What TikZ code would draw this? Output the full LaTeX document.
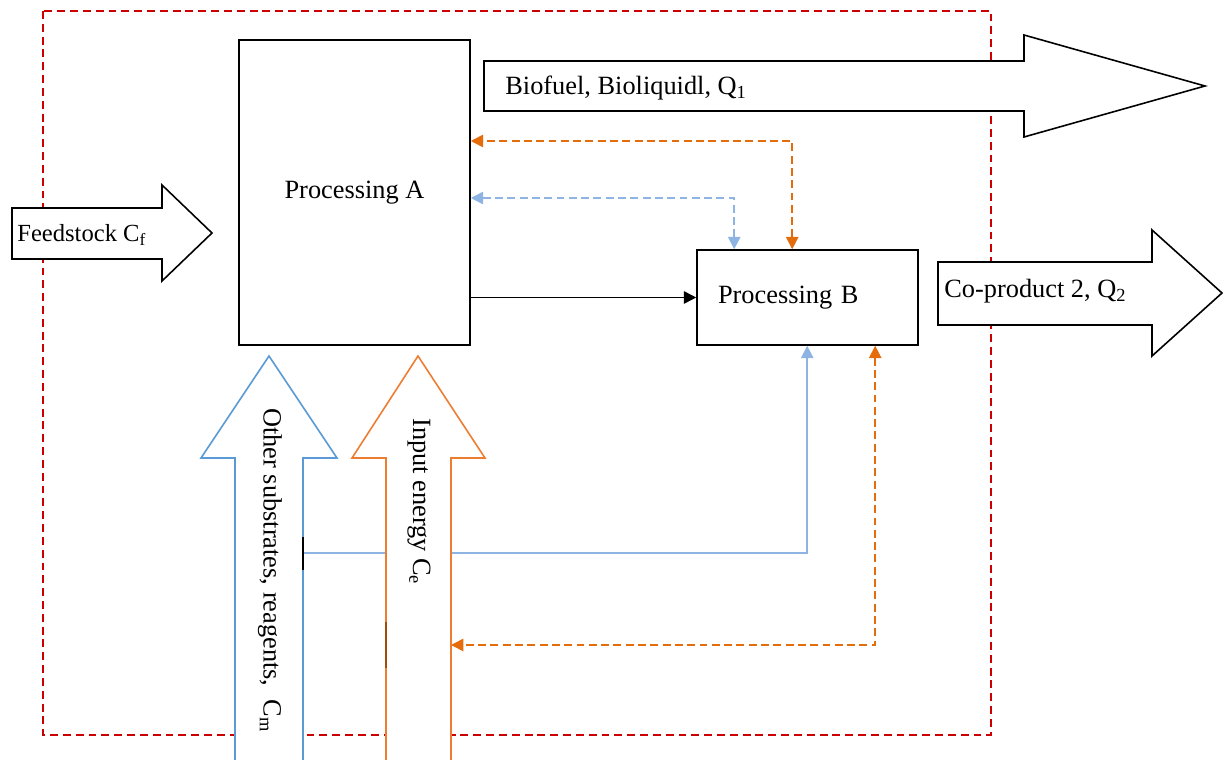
\documentclass[tikz,border=0pt]{standalone}
\usepackage{fontspec}
\setmainfont{Liberation Serif}
\usepackage{tikz}
\usetikzlibrary{arrows.meta}
\definecolor{bluearrow}{RGB}{91, 155, 213}
\definecolor{bluelink}{RGB}{141, 180, 226}
\definecolor{orangearrow}{RGB}{237, 125, 49}
\definecolor{orangelink}{RGB}{228, 108, 10}
\definecolor{borderred}{RGB}{204, 0, 0}

\begin{document}
\begin{tikzpicture}[x=0.02cm, y=-0.02cm, font=\fontsize{15}{18}\selectfont,
  procbox/.style={draw, line width=0.9pt, fill=white, inner sep=0pt},
  bigarrow/.style={draw, line width=0.9pt, fill=white, line join=miter},
  elink/.style={orangelink, line width=0.9pt, dash pattern=on 4.5pt off 2.5pt},
  slink/.style={bluelink, line width=0.9pt, dash pattern=on 4.5pt off 2.5pt}]
\useasboundingbox (0,0) rectangle (1224,760);

% System boundary
\draw[borderred, line width=0.9pt, dash pattern=on 4.5pt off 2.8pt] (43,11) rectangle (991,735);

% Processing units
\node[procbox, minimum width=4.62cm, minimum height=6.1cm] (procA) at (354.5,192.5) {Processing A};
\node[procbox, minimum width=4.42cm, minimum height=1.9cm, text width=3.58cm,
      inner xsep=0.42cm, align=left] (procB) at (807.5,297.5) {Processing B};

% Edge points of the two input arrows
\coordinate (subR) at (303,553);
\coordinate (engR) at (451,645);

% Substrate return (runs behind the energy arrow)
\draw[bluelink, line width=0.9pt, {Triangle[length=7pt, width=7pt]}-] ([xshift=2.22cm]procB.south west) |- (subR);

% Inputs and outputs
\draw[bigarrow] (12,208) -- (162,208) -- (162,185) -- (212,233) -- (162,281) -- (162,259) -- (12,259) -- cycle;
\draw[bigarrow] (484,61) -- (1024,61) -- (1024,35) -- (1205,86) -- (1024,137) -- (1024,111) -- (484,111) -- cycle;
\draw[bigarrow] (938,262) -- (1152,262) -- (1152,230) -- (1222,293) -- (1152,356) -- (1152,325) -- (938,325) -- cycle;
\draw[bigarrow, draw=bluearrow] (235,775) -- (235,458) -- (201,458) -- (269,356) -- (337,458) -- (303,458) -- (303,775) -- cycle;
\draw[bigarrow, draw=orangearrow] (386,775) -- (386,458) -- (352,458) -- (418,356) -- (485,458) -- (451,458) -- (451,775) -- cycle;
\draw[black, line width=1.3pt] (303,537) -- (303,570);
\draw[orangelink!70!black, line width=1pt] (386,622) -- (386,668);

% Labels
\node[anchor=west, font=\fontsize{14}{16}\selectfont, inner sep=0pt] (feedlbl) at (17,235) {Feedstock C\textsubscript{f}};
\node[anchor=west, inner sep=0pt] (fuellbl) at (505,88) {Biofuel, Bioliquidl, Q\textsubscript{1}};
\node[anchor=west, inner sep=0pt] (colbl) at (944,291) {Co-product 2, Q\textsubscript{2}};
\node[anchor=west, rotate=-90, inner sep=0pt] (sublbl) at (270,408) {Other substrates, reagents,\ \ C\textsubscript{m}};
\node[anchor=west, rotate=-90, inner sep=0pt] (englbl) at (419,418) {Input energy C\textsubscript{e}};

% Flows between the units
\draw[line width=0.9pt, -{Triangle[length=7pt, width=7pt]}] (procA.east |- procB.west) -- (procB.west);
\draw[elink, {Triangle[length=7pt, width=7pt]}-{Triangle[length=7pt, width=7pt]}] ([xshift=1.92cm]procB.north west) |- (procA.east |- 0,141);
\draw[slink, {Triangle[length=7pt, width=7pt]}-{Triangle[length=7pt, width=7pt]}] ([xshift=0.76cm]procB.north west) |- (procA.east |- 0,198);
\draw[elink, {Triangle[length=7pt, width=7pt]}-{Triangle[length=7pt, width=7pt]}] ([xshift=3.58cm]procB.south west) |- (engR);
\end{tikzpicture}
\end{document}
